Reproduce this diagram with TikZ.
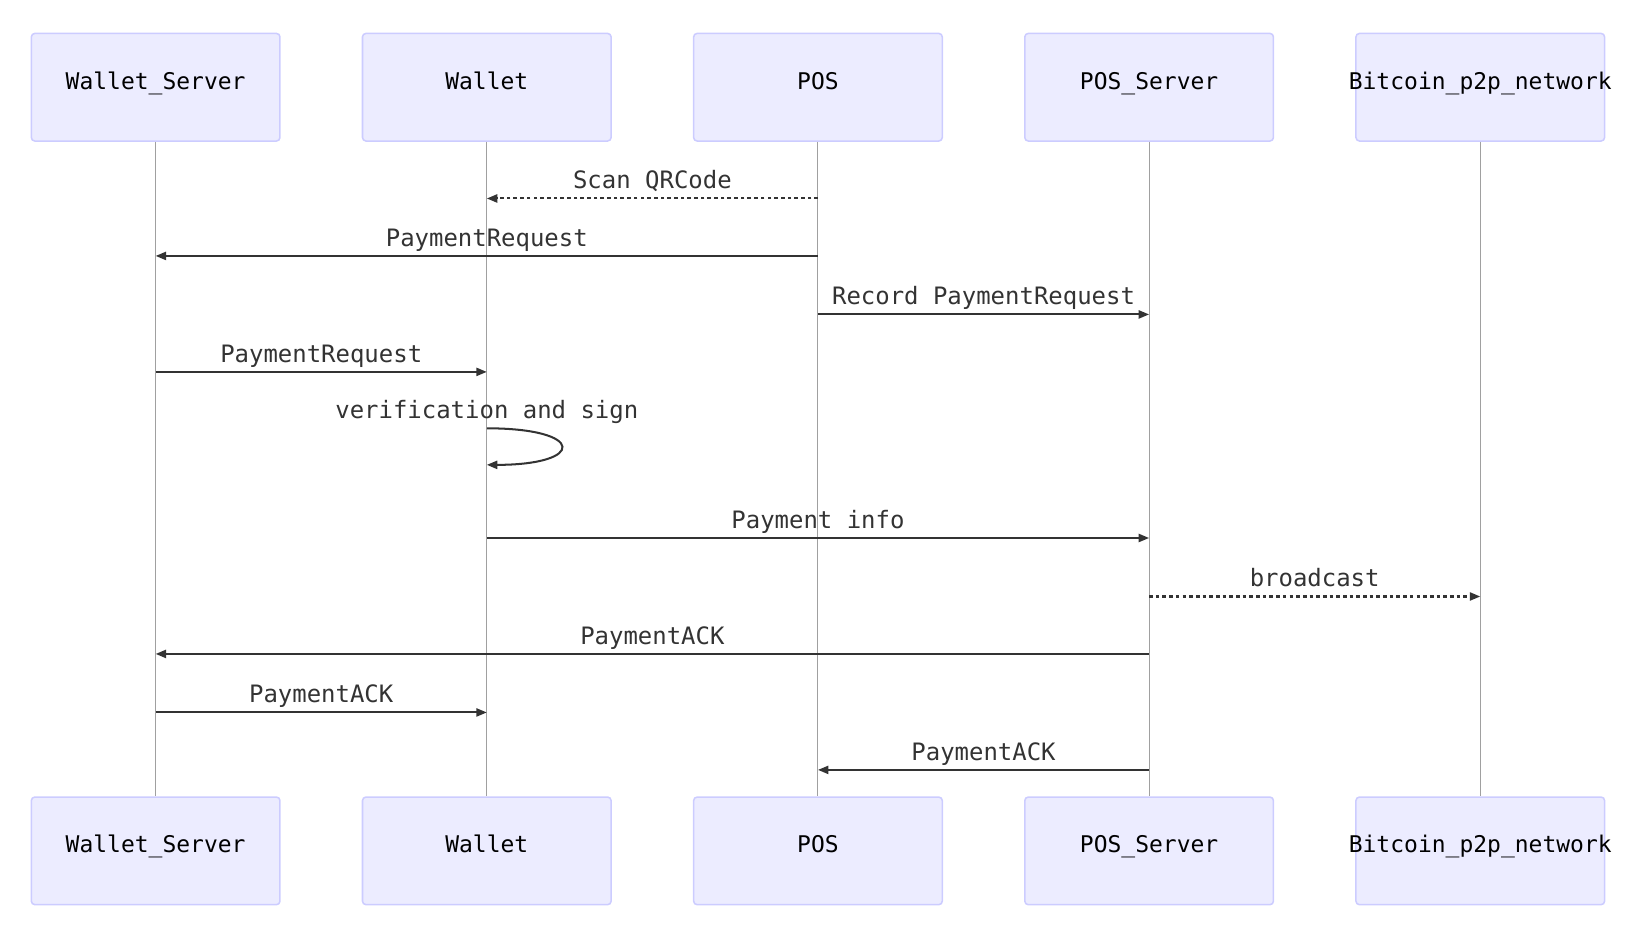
\documentclass[tikz,border=0pt]{standalone}
\usepackage{fontspec}
\newfontfamily\diagfont{DejaVu Sans Mono}
\usetikzlibrary{arrows.meta}
\definecolor{actfill}{HTML}{ECECFF}
\definecolor{actline}{HTML}{CCCCFF}
\definecolor{msgcol}{HTML}{333333}
\definecolor{lifecol}{HTML}{A0A0A0}

\begin{document}
\begin{tikzpicture}[x = 0.75pt, y = -0.75pt, font = \diagfont\fontsize{16.5}{20}\selectfont,
	actor/.style = {draw=actline,fill=actfill,line width=1.1pt,rounded corners=2.5pt,minimum width=178.5pt,minimum height=77.25pt,text height=7.5pt,text depth=4.5pt,text=black},
	life/.style = {draw=lifecol,line width=0.75pt},
	msg/.style = {draw=msgcol,line width=1.45pt,-{Triangle[length=7.5pt,width=5.8pt]}},
	dots/.style = {dash pattern=on 2.6pt off 2.2pt},
	tag/.style = {anchor=base,yshift=7pt,text=msgcol,inner sep=0pt,font=\diagfont\fontsize{17.2}{20}\selectfont},
	lbl/.style = {midway,tag},]
		\useasboundingbox (0,0) rectangle (1568,892);
		\node[actor] (ws) at (149,83.5) {Wallet\_Server};
		\node[actor] (w) at (466,83.5) {Wallet};
		\node[actor] (pos) at (783,83.5) {POS};
		\node[actor] (ps) at (1100,83.5) {POS\_Server};
		\node[actor] (btc) at (1417,83.5) {\makebox[0pt]{Bitcoin\_p2p\_network}};
		\node[actor] (wsb) at (149,814.5) {Wallet\_Server};
		\node[actor] (wb) at (466,814.5) {Wallet};
		\node[actor] (posb) at (783,814.5) {POS};
		\node[actor] (psb) at (1100,814.5) {POS\_Server};
		\node[actor] (btcb) at (1417,814.5) {\makebox[0pt]{Bitcoin\_p2p\_network}};
		
		\draw[life] (ws) -- (wsb);
		\draw[life] (w) -- (wb);
		\draw[life] (pos) -- (posb);
		\draw[life] (ps) -- (psb);
		\draw[life] (btc) -- (btcb);
		
		\coordinate (r1) at (0,190);
		\coordinate (r2) at (0,245);
		\coordinate (r3) at (0,301);
		\coordinate (r4) at (0,356);
		\coordinate (r5) at (0,410);
		\coordinate (r5b) at (0,445);
		\coordinate (r6) at (0,515);
		\coordinate (r7) at (0,571);
		\coordinate (r8) at (0,626);
		\coordinate (r9) at (0,682);
		\coordinate (r10) at (0,737);
		
		\draw[msg,dots] (pos |- r1) -- node[lbl] {Scan QRCode} (w |- r1);
		\draw[msg] (pos |- r2) -- node[lbl] {PaymentRequest} (ws |- r2);
		\draw[msg] (pos |- r3) -- node[lbl] {Record PaymentRequest} (ps |- r3);
		\draw[msg] (ws |- r4) -- node[lbl] {PaymentRequest} (w |- r4);
		\draw[msg] (w |- r5) .. controls +(95,0) and +(95,0) .. (w |- r5b);
		\node[tag] (verif) at (w |- r5) {verification and sign};
		\draw[msg] (w |- r6) -- node[lbl] {Payment info} (ps |- r6);
		\draw[msg,dots] (ps |- r7) -- node[lbl] {broadcast} (btc |- r7);
		\draw[msg] (ps |- r8) -- node[lbl] {PaymentACK} (ws |- r8);
		\draw[msg] (ws |- r9) -- node[lbl] {PaymentACK} (w |- r9);
		\draw[msg] (ps |- r10) -- node[lbl] {PaymentACK} (pos |- r10);
	\end{tikzpicture}
\end{document}
